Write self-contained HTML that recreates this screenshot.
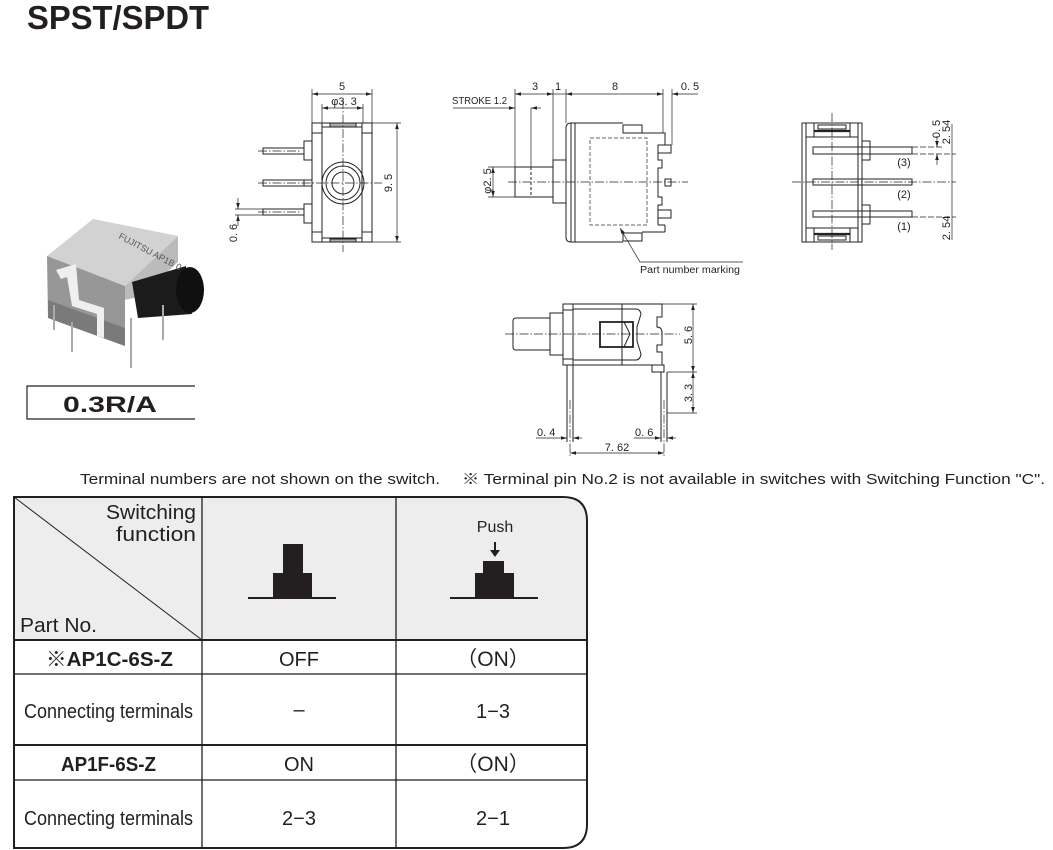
<!DOCTYPE html>
<html><head><meta charset="utf-8">
<style>
html,body{margin:0;padding:0;background:#fff;}
svg{display:block;}
text{font-family:"Liberation Sans","Noto Sans CJK JP",sans-serif;fill:#231f20;}
</style></head>
<body>
<svg width="1053" height="850" viewBox="0 0 1053 850" xmlns="http://www.w3.org/2000/svg">
<defs>
<marker id="ar" viewBox="0 0 10 6" refX="10" refY="3" markerUnits="userSpaceOnUse" markerWidth="6" markerHeight="3.6" orient="auto-start-reverse"><path d="M0,0 L10,3 L0,6 z" fill="#222"/></marker>
</defs>

<!-- Title -->
<text x="27" y="29" font-size="33" font-weight="bold" textLength="182" lengthAdjust="spacingAndGlyphs">SPST/SPDT</text>

<!-- Photo approximation -->
<g>
<polygon points="47,256 93,219 178,236 125,286" fill="#d2d2d2"/>
<polygon points="47,256 125,286 125,346 48,318" fill="#979797"/>
<polygon points="125,286 178,236 178,262 142,296 125,300" fill="#bbbbbb"/>
<polygon points="48,300 125,328 125,346 48,318" fill="#7a7a7a"/>
<path d="M56,270 L76,264 L79,300 L104,308 L104,338 L97,336 L97,314 L72,306 L67,277 L61,279 Z" fill="#efefef"/>
<path d="M132,282 L186,266 L192,314 L138,318 Z" fill="#1b1b1b"/>
<ellipse cx="190" cy="290" rx="14" ry="23" fill="#101010"/>
<g stroke="#aaa" stroke-width="2"><line x1="54" y1="305" x2="54" y2="330"/><line x1="72" y1="322" x2="72" y2="352"/><line x1="131" y1="318" x2="131" y2="368"/><line x1="163" y1="305" x2="163" y2="340"/></g>
<text transform="translate(118,238) rotate(28)" font-size="9" style="fill:#555">FUJITSU AP1B 0</text>
</g>

<!-- 0.3R/A box -->
<polyline points="195,386 27,386 27,419 195,419" fill="none" stroke="#222" stroke-width="1.2"/>
<text x="63" y="412" font-size="22" font-weight="bold" textLength="94" lengthAdjust="spacingAndGlyphs">0.3R/A</text>

<!-- FRONT VIEW -->
<g stroke="#222" stroke-width="1" fill="none">
<rect x="312" y="123" width="60" height="119"/>
<line x1="322" y1="133" x2="322" y2="232"/>
<line x1="362" y1="133" x2="362" y2="232"/>
<rect x="312" y="123" width="10" height="10"/><rect x="362" y="123" width="10" height="10"/>
<rect x="312" y="232" width="10" height="10"/><rect x="362" y="232" width="10" height="10"/>
<line x1="322" y1="127" x2="362" y2="127"/><line x1="322" y1="238" x2="362" y2="238"/>
<rect x="330" y="123" width="26" height="4" fill="#aaa"/>
<rect x="330" y="239" width="26" height="3" fill="#aaa"/>
<circle cx="343" cy="183" r="21"/><circle cx="343" cy="183" r="17"/><circle cx="343" cy="183" r="11"/>
<rect x="263" y="148" width="41" height="6"/><rect x="304" y="141" width="8" height="19"/>
<rect x="263" y="180" width="49" height="6"/><line x1="304" y1="180" x2="304" y2="186"/>
<rect x="263" y="209" width="41" height="6"/><rect x="304" y="204" width="8" height="19"/>
<line x1="312" y1="89" x2="312" y2="123" stroke-width="0.7"/><line x1="372" y1="89" x2="372" y2="123" stroke-width="0.7"/>
<line x1="312" y1="94" x2="372" y2="94" stroke-width="0.7" marker-start="url(#ar)" marker-end="url(#ar)"/>
<line x1="322" y1="104" x2="322" y2="123" stroke-width="0.7"/><line x1="363" y1="104" x2="363" y2="123" stroke-width="0.7"/>
<line x1="322" y1="108" x2="363" y2="108" stroke-width="0.7" marker-start="url(#ar)" marker-end="url(#ar)"/>
<line x1="372" y1="123" x2="401" y2="123" stroke-width="0.7"/><line x1="372" y1="242" x2="401" y2="242" stroke-width="0.7"/>
<line x1="397" y1="123" x2="397" y2="242" stroke-width="0.7" marker-start="url(#ar)" marker-end="url(#ar)"/>
<line x1="235" y1="209" x2="263" y2="209" stroke-width="0.7"/><line x1="235" y1="215" x2="263" y2="215" stroke-width="0.7"/>
<line x1="238" y1="198" x2="238" y2="209" stroke-width="0.7" marker-end="url(#ar)"/>
<line x1="238" y1="226" x2="238" y2="215" stroke-width="0.7" marker-end="url(#ar)"/>
<g stroke-width="0.7" stroke-dasharray="9,2,1.5,2">
<line x1="343" y1="100" x2="343" y2="252"/><line x1="258" y1="183" x2="382" y2="183"/>
<line x1="258" y1="151" x2="300" y2="151"/><line x1="258" y1="212" x2="300" y2="212"/>
</g>
</g>
<g font-size="11">
<text x="342" y="90" text-anchor="middle">5</text>
<text x="344" y="105" text-anchor="middle">φ3. 3</text>
<text transform="translate(392,183) rotate(-90)" text-anchor="middle">9. 5</text>
<text transform="translate(237,233) rotate(-90)" text-anchor="middle">0. 6</text>
</g>

<!-- SIDE VIEW -->
<g stroke="#222" stroke-width="1" fill="none">
<rect x="515" y="167" width="38" height="30"/>
<line x1="531" y1="108" x2="531" y2="167" stroke-width="0.7"/>
<line x1="531" y1="167" x2="531" y2="197" stroke-dasharray="3,2"/>
<line x1="515" y1="89" x2="515" y2="167" stroke-width="0.7"/>
<rect x="553" y="160" width="13" height="43"/>
<line x1="553" y1="89" x2="553" y2="160" stroke-width="0.7"/>
<path d="M571,123 H623 M642,133 H665 V143 M658,150 V160 H662 V168 H658 V197 H662 V205 H658 V225 M665,232 H642 M623,242 H571 Q566,242 566,237 V128 Q566,123 571,123"/>
<line x1="571" y1="123" x2="571" y2="242"/><line x1="575" y1="123" x2="575" y2="242"/>
<rect x="623" y="125" width="19" height="8"/><rect x="623" y="233" width="19" height="8"/>
<rect x="658" y="145" width="13" height="8"/><rect x="665" y="179" width="6" height="7"/><rect x="658" y="210" width="13" height="8"/>
<line x1="665" y1="143" x2="665" y2="145"/><line x1="665" y1="225" x2="665" y2="232"/><line x1="658" y1="225" x2="665" y2="225"/>
<rect x="590" y="138" width="57" height="87" stroke="#666" stroke-dasharray="4,2"/>
<line x1="566" y1="89" x2="566" y2="123" stroke-width="0.7"/>
<line x1="663" y1="89" x2="663" y2="133" stroke-width="0.7"/>
<line x1="672" y1="89" x2="672" y2="145" stroke-width="0.7"/>
<line x1="515" y1="94" x2="553" y2="94" stroke-width="0.7" marker-start="url(#ar)" marker-end="url(#ar)"/>
<line x1="553" y1="94" x2="566" y2="94" stroke-width="0.7"/>
<line x1="566" y1="94" x2="663" y2="94" stroke-width="0.7" marker-start="url(#ar)" marker-end="url(#ar)"/>
<line x1="698" y1="94" x2="672" y2="94" stroke-width="0.7" marker-end="url(#ar)"/>
<line x1="453" y1="108" x2="515" y2="108" stroke-width="0.7" marker-end="url(#ar)"/>
<line x1="541" y1="108" x2="531" y2="108" stroke-width="0.7" marker-end="url(#ar)"/>
<line x1="488" y1="167" x2="515" y2="167" stroke-width="0.7"/><line x1="488" y1="197" x2="515" y2="197" stroke-width="0.7"/>
<line x1="493" y1="167" x2="493" y2="197" stroke-width="0.7" marker-start="url(#ar)" marker-end="url(#ar)"/>
<line x1="508" y1="182" x2="688" y2="182" stroke-width="0.7" stroke-dasharray="9,2,1.5,2"/>
<polyline points="743,262 640,262 620,228" stroke-width="0.7" marker-end="url(#ar)"/>
</g>
<g font-size="11">
<text x="535" y="90" text-anchor="middle">3</text>
<text x="558" y="90" text-anchor="middle">1</text>
<text x="615" y="90" text-anchor="middle">8</text>
<text x="690" y="90" text-anchor="middle">0. 5</text>
<text x="452" y="104" font-size="10" textLength="55" lengthAdjust="spacingAndGlyphs">STROKE 1.2</text>
<text transform="translate(491,181) rotate(-90)" text-anchor="middle">φ2. 5</text>
<text x="640" y="273" font-size="10" textLength="100" lengthAdjust="spacingAndGlyphs">Part number marking</text>
</g>

<!-- RIGHT VIEW -->
<g stroke="#222" stroke-width="1" fill="none">
<rect x="802" y="123" width="60" height="119"/>
<rect x="806" y="137" width="52" height="91"/>
<rect x="806" y="123" width="8" height="14"/><rect x="850" y="123" width="8" height="14"/>
<rect x="806" y="228" width="8" height="14"/><rect x="850" y="228" width="8" height="14"/>
<line x1="814" y1="131" x2="850" y2="131" stroke-width="2.2"/><line x1="814" y1="234" x2="850" y2="234" stroke-width="2.2"/>
<rect x="818" y="125" width="28" height="4"/><rect x="818" y="236" width="28" height="4"/>
<rect x="862" y="141" width="8" height="19"/><rect x="862" y="205" width="8" height="19"/>
<line x1="858" y1="150" x2="858" y2="228"/>
<rect x="813" y="147" width="99" height="7"/>
<rect x="813" y="179" width="99" height="6"/>
<rect x="813" y="211" width="99" height="6"/>
<g stroke-width="0.7">
<line x1="912" y1="147" x2="944" y2="147" stroke-dasharray="6,2"/>
<line x1="912" y1="154" x2="956" y2="154" stroke-dasharray="6,2"/>
<line x1="912" y1="217" x2="956" y2="217" stroke-dasharray="6,2"/>
<line x1="952" y1="124" x2="952" y2="240"/>
<line x1="937" y1="136" x2="937" y2="147" marker-end="url(#ar)"/>
<line x1="937" y1="165" x2="937" y2="154" marker-end="url(#ar)"/>
<line x1="832" y1="113" x2="832" y2="250" stroke-dasharray="9,2,1.5,2"/>
<line x1="792" y1="182" x2="956" y2="182" stroke-dasharray="9,2,1.5,2"/>
</g>
</g>
<g font-size="11">
<text x="904" y="166" text-anchor="middle">(3)</text>
<text x="904" y="198" text-anchor="middle">(2)</text>
<text x="904" y="230" text-anchor="middle">(1)</text>
<text transform="translate(940,129) rotate(-90)" text-anchor="middle">0. 5</text>
<text transform="translate(950,132) rotate(-90)" text-anchor="middle">2. 54</text>
<text transform="translate(950,228) rotate(-90)" text-anchor="middle">2. 54</text>
</g>

<!-- BOTTOM VIEW -->
<g stroke="#222" stroke-width="1" fill="none">
<path d="M550,318 H516 Q513,318 513,321 V347 Q513,350 516,350 H550"/>
<rect x="550" y="313" width="13" height="42"/>
<rect x="563" y="304" width="10" height="61"/>
<rect x="563" y="304" width="10" height="6"/><rect x="563" y="359" width="10" height="6"/>
<path d="M573,304 H662 V317 H657 V327 Q662,327 662,333 V345 H657 V352 H662 V365 H573"/>
<line x1="573" y1="309" x2="622" y2="309"/><line x1="573" y1="360" x2="622" y2="360"/>
<line x1="622" y1="304" x2="622" y2="365"/>
<path d="M622,309 H636 Q640,309 641,314 L637,327 V341 L641,354 Q640,360 636,360 H622"/>
<rect x="600" y="322" width="33" height="25" stroke-width="1.8"/>
<polyline points="624,322 630,334 624,347" />
<rect x="652" y="365" width="12" height="7"/>
<line x1="567" y1="365" x2="567" y2="442"/><line x1="573" y1="365" x2="573" y2="442"/>
<line x1="661" y1="372" x2="661" y2="442"/><line x1="667" y1="372" x2="667" y2="442"/>
<g stroke-width="0.7">
<line x1="505" y1="334" x2="680" y2="334" stroke-dasharray="9,2,1.5,2"/>
<line x1="570" y1="400" x2="570" y2="458" stroke-dasharray="9,2,1.5,2"/>
<line x1="664" y1="400" x2="664" y2="458" stroke-dasharray="9,2,1.5,2"/>
<line x1="662" y1="304" x2="697" y2="304"/>
<line x1="667" y1="372" x2="697" y2="372"/>
<line x1="667" y1="413" x2="697" y2="413"/>
<line x1="693" y1="304" x2="693" y2="372" marker-start="url(#ar)" marker-end="url(#ar)"/>
<line x1="693" y1="372" x2="693" y2="413" marker-start="url(#ar)" marker-end="url(#ar)"/>
<line x1="536" y1="438" x2="567" y2="438" marker-end="url(#ar)"/>
<line x1="582" y1="438" x2="573" y2="438" marker-end="url(#ar)"/>
<line x1="634" y1="438" x2="661" y2="438" marker-end="url(#ar)"/>
<line x1="676" y1="438" x2="667" y2="438" marker-end="url(#ar)"/>
<line x1="570" y1="453" x2="664" y2="453" marker-start="url(#ar)" marker-end="url(#ar)"/>
</g>
</g>
<g font-size="11">
<text transform="translate(692,335) rotate(-90)" text-anchor="middle">5. 6</text>
<text transform="translate(692,393) rotate(-90)" text-anchor="middle">3. 3</text>
<text x="537" y="436">0. 4</text>
<text x="635" y="436">0. 6</text>
<text x="617" y="451" text-anchor="middle">7. 62</text>
</g>

<!-- Note line -->
<text x="80" y="484" font-size="15" textLength="360" lengthAdjust="spacingAndGlyphs">Terminal numbers are not shown on the switch.</text>
<text x="462" y="484" font-size="15" textLength="583" lengthAdjust="spacingAndGlyphs">※ Terminal pin No.2 is not available in switches with Switching Function "C".</text>

<!-- TABLE -->
<path d="M14,497 H563 Q587,497 587,521 V640 H14 Z" fill="#ededed"/>
<g stroke="#231f20" fill="none">
<path d="M14,497 H563 Q587,497 587,521 V824 Q587,848 563,848 H14 Z" stroke-width="2"/>
<line x1="202" y1="497" x2="202" y2="848" stroke-width="1.3"/>
<line x1="396" y1="497" x2="396" y2="848" stroke-width="1.3"/>
<line x1="14" y1="640" x2="587" y2="640" stroke-width="2"/>
<line x1="14" y1="674" x2="587" y2="674" stroke-width="1.3"/>
<line x1="14" y1="745" x2="587" y2="745" stroke-width="2"/>
<line x1="14" y1="780" x2="587" y2="780" stroke-width="1.3"/>
<line x1="14" y1="497" x2="202" y2="640" stroke-width="1"/>
</g>
<g fill="#231f20">
<rect x="273" y="573" width="39" height="25"/>
<rect x="283" y="544" width="20" height="30"/>
<rect x="248" y="597" width="88" height="2"/>
<rect x="475" y="573" width="39" height="25"/>
<rect x="483" y="561" width="21" height="13"/>
<rect x="450" y="597" width="88" height="2"/>
<rect x="494" y="542" width="2" height="9"/>
<path d="M490,550 H500 L495,557 Z"/>
</g>
<g font-size="20">
<text x="196" y="519" text-anchor="end" textLength="90" lengthAdjust="spacingAndGlyphs">Switching</text>
<text x="196" y="541" text-anchor="end" textLength="80" lengthAdjust="spacingAndGlyphs">function</text>
<text x="20" y="632" textLength="77" lengthAdjust="spacingAndGlyphs">Part No.</text>
<text x="495" y="532" text-anchor="middle" font-size="16">Push</text>
<text x="46" y="666" font-weight="bold" textLength="127" lengthAdjust="spacingAndGlyphs">※AP1C-6S-Z</text>
<text x="299" y="666" text-anchor="middle">OFF</text>
<text x="493" y="666" text-anchor="middle" font-size="21">（ON）</text>
<text x="24" y="718" textLength="169" lengthAdjust="spacingAndGlyphs">Connecting terminals</text>
<text x="299" y="716" text-anchor="middle">–</text>
<text x="493" y="718" text-anchor="middle">1−3</text>
<text x="61" y="771" font-weight="bold" textLength="95" lengthAdjust="spacingAndGlyphs">AP1F-6S-Z</text>
<text x="299" y="771" text-anchor="middle">ON</text>
<text x="493" y="771" text-anchor="middle" font-size="21">（ON）</text>
<text x="24" y="825" textLength="169" lengthAdjust="spacingAndGlyphs">Connecting terminals</text>
<text x="299" y="825" text-anchor="middle">2−3</text>
<text x="493" y="825" text-anchor="middle">2−1</text>
</g>
</svg>
</body></html>
